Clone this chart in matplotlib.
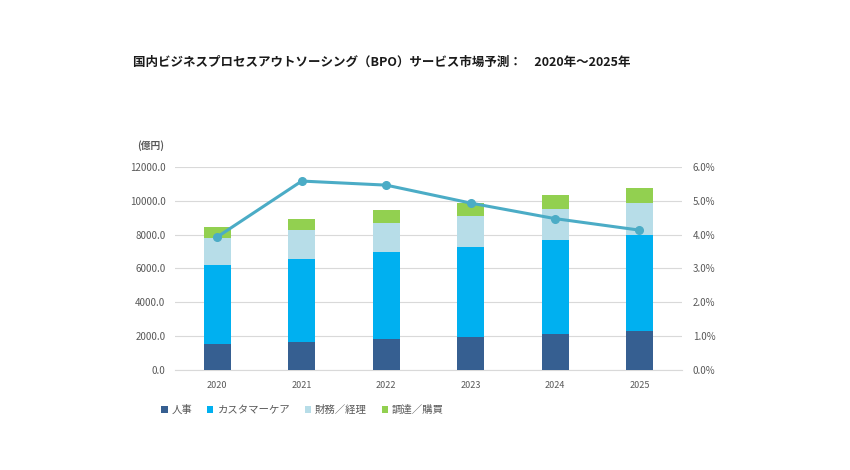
import numpy as np
import matplotlib.pyplot as plt
from matplotlib.ticker import FuncFormatter

plt.rcParams['font.family'] = ['Noto Sans CJK JP', 'DejaVu Sans']

# データ（億円）
years = ["2020", "2021", "2022", "2023", "2024", "2025"]
jinji = [1540, 1640, 1800, 1950, 2130, 2310]
customer_care = [4680, 4910, 5150, 5340, 5530, 5690]
zaimu = [1560, 1700, 1710, 1830, 1820, 1870]
chotatsu = [670, 670, 770, 750, 860, 890]
growth = [3.93, 5.58, 5.46, 4.93, 4.47, 4.13]  # 成長率 (%)

labels = ["人事", "カスタマーケア", "財務／経理", "調達／購買"]
colors = ["#365f91", "#00b0f0", "#b7dde8", "#92d050"]
series = [jinji, customer_care, zaimu, chotatsu]

fig = plt.figure(figsize=(8.5, 4.7), dpi=100)
ax = fig.add_axes([0.206, 0.213, 0.596, 0.432])

x = np.arange(len(years))
bottom = np.zeros(len(years))
for vals, lab, col in zip(series, labels, colors):
    ax.bar(x, vals, width=0.32, bottom=bottom, color=col, label=lab, zorder=3)
    bottom += np.array(vals)

ax.set_xlim(-0.5, 5.5)
ax.set_ylim(0, 12000)
ax.set_yticks(np.arange(0, 12001, 2000))
ax.yaxis.set_major_formatter(FuncFormatter(lambda v, p: f"{v:.1f}"))
ax.set_xticks(x)
ax.set_xticklabels(years)
ax.grid(axis='y', color='#d9d9d9', linewidth=0.8, zorder=0)
for s in ['top', 'right', 'left']:
    ax.spines[s].set_visible(False)
ax.spines['bottom'].set_color('#d9d9d9')
ax.tick_params(axis='y', length=0, labelsize=7, labelcolor='#595959', pad=7)
ax.tick_params(axis='x', length=0, labelsize=6.5, labelcolor='#595959', pad=8)

ax2 = ax.twinx()
ax2.plot(x, growth, color='#4bacc6', linewidth=2.2, marker='o', markersize=5.5, zorder=5)
ax2.set_ylim(0, 6)
ax2.set_yticks(np.arange(0, 6.01, 1))
ax2.yaxis.set_major_formatter(FuncFormatter(lambda v, p: f"{v:.1f}%"))
for s in ax2.spines.values():
    s.set_visible(False)
ax2.tick_params(axis='y', length=0, labelsize=7, labelcolor='#595959', pad=8)

fig.text(133 / 850, 1 - 62 / 470, "国内ビジネスプロセスアウトソーシング（BPO）サービス市場予測：　2020年～2025年",
         fontsize=9, fontweight='bold', va='center', ha='left', color='#1a1a1a')
fig.text(137 / 850, 1 - 146 / 470, "(億円)", fontsize=7, fontweight='bold', va='center', ha='left', color='#595959')

handles, labs = ax.get_legend_handles_labels()
fig.legend(handles, labs, loc='center left', bbox_to_anchor=(152 / 850, 1 - 410 / 470),
           ncol=4, frameon=False, fontsize=7.5, handlelength=0.6, handleheight=0.6,
           handletextpad=0.4, columnspacing=1.4, labelcolor='#595959')

fig.savefig("out.png", dpi=100)
